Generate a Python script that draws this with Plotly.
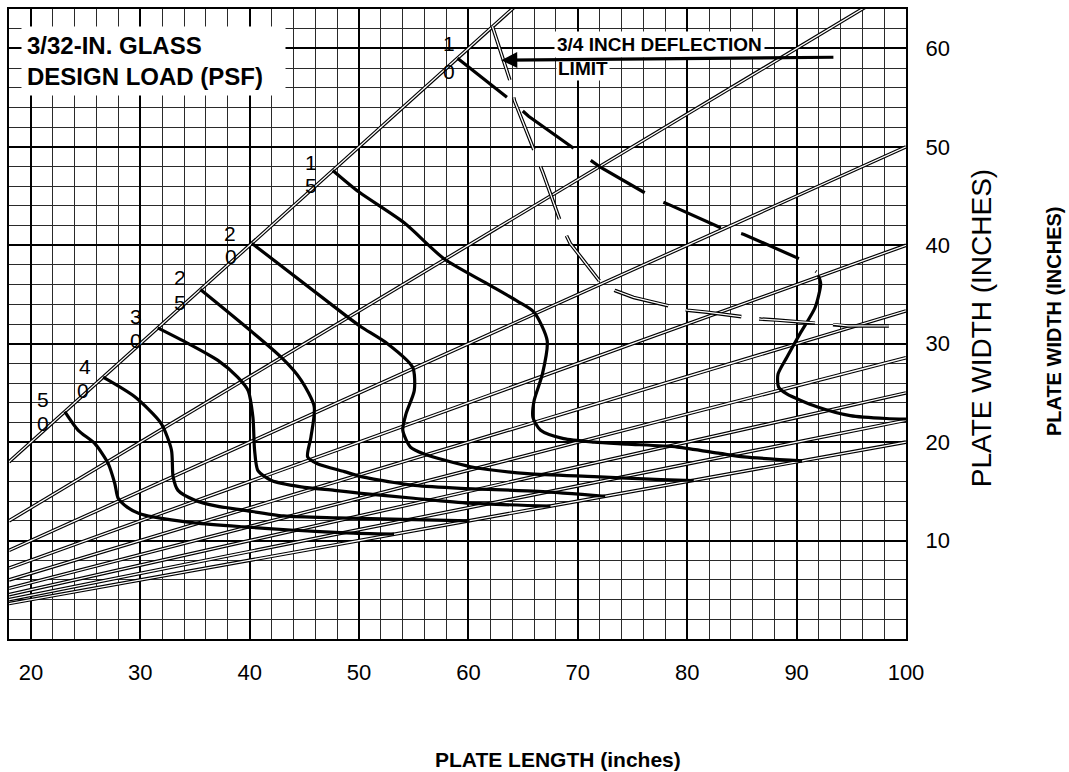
import plotly.graph_objects as go

# ---------------- data ----------------
x_ticks = [20, 30, 40, 50, 60, 70, 80, 90, 100]
y_ticks = [10, 20, 30, 40, 50, 60]
x_range = [18, 100]
y_range = [0, 64]

# aspect-ratio lines: width = length / ratio
ratios = [1, 1.5, 2, 2.5, 3, 3.5, 4, 4.5, 5]

# design-load contours (psf)
load_50_x = [23.1, 24.33, 25.85, 27.07, 27.67, 27.98, 28.8, 29.9, 31.18, 34.95, 39.36, 44.08, 48.8, 53.2]
load_50_y = [23.1, 21.2, 19.85, 17.82, 15.8, 14.3, 13.4, 12.75, 12.4, 11.8, 11.4, 11.05, 10.78, 10.65]

load_40_x = [26.6, 29.5, 31.9, 32.85, 33.0, 33.45, 35.0, 37.0, 39.4, 43.1, 48.0, 54.0, 60.1]
load_40_y = [26.6, 24.6, 21.9, 19.2, 16.5, 15.1, 14.1, 13.5, 13.1, 12.5, 12.3, 12.15, 12.0]

load_30_x = [31.6, 34.4, 37.1, 38.9, 39.85, 40.3, 40.45, 40.76, 42.0, 44.7, 47.75, 50.2, 55.0, 60.1, 67.5]
load_30_y = [31.6, 30.0, 28.3, 26.6, 25.25, 22.5, 19.2, 17.1, 16.1, 15.45, 15.1, 14.8, 14.3, 13.8, 13.5]

load_25_x = [35.5, 42.9, 44.7, 45.9, 45.6, 45.3, 46.2, 48.66, 50.2, 53.2, 55.1, 59.3, 66.4, 72.5]
load_25_y = [35.5, 28.6, 26.3, 23.6, 20.5, 18.5, 17.8, 17.0, 16.5, 15.9, 15.6, 15.3, 15.0, 14.5]

load_20_x = [40.2, 48.97, 50.2, 52.6, 54.9, 55.05, 54.3, 54.0, 54.7, 55.95, 60.2, 65.4, 71.5, 77.6, 80.6]
load_20_y = [40.2, 32.7, 31.7, 30.0, 27.6, 25.25, 22.9, 21.2, 19.5, 18.8, 17.5, 16.8, 16.5, 16.2, 16.1]

load_15_x = [47.6, 50.0, 54.1, 57.8, 61.7, 64.5, 66.0, 67.2, 66.76, 66.0, 65.9, 66.6, 68.7, 71.5, 74.5, 79.1, 83.0, 85.2, 90.5]
load_15_y = [47.6, 45.4, 42.3, 38.6, 36.1, 34.3, 33.2, 30.3, 26.9, 24.2, 22.5, 21.2, 20.35, 20.0, 19.8, 19.5, 18.85, 18.5, 18.1]

load_10_dash_x = [59.0, 63.9, 65.5, 70.5, 72.1, 77.1, 78.6, 83.0, 85.2, 90.3, 91.8]
load_10_dash_y = [59.0, 54.7, 53.1, 49.1, 47.9, 44.7, 44.0, 41.8, 41.1, 38.6, 37.3]
load_10_x = [92.0, 92.2, 91.7, 90.3, 89.1, 88.3, 88.35, 89.1, 91.85, 94.9, 98.2, 100.0]
load_10_y = [36.9, 36.1, 33.7, 31.0, 28.6, 26.9, 25.6, 24.9, 23.6, 22.7, 22.4, 22.35]

# 3/4 inch deflection limit
limit_x = [62.2, 63.9, 64.2, 66.15, 66.8, 68.6, 69.3, 72.1, 73.4, 75.1, 80.0, 81.8, 86.7, 88.2, 93.2, 94.7, 100.0]
limit_y = [62.2, 56.4, 54.7, 49.1, 47.4, 41.8, 40.2, 36.2, 35.4, 34.7, 33.4, 33.2, 32.5, 32.4, 32.0, 31.8, 31.8]

load_labels = ["50", "40", "30", "25", "20", "15", "10"]

# ---------------- figure ----------------
FONT = "Liberation Sans, Arial, Helvetica, sans-serif"
fig = go.Figure()

def add(x, y, color, width, dash=None, shape="linear"):
    fig.add_trace(go.Scatter(x=x, y=y, mode="lines",
                             line=dict(color=color, width=width, dash=dash,
                                       shape=shape, smoothing=0.7),
                             hoverinfo="skip", showlegend=False))

# ratio lines drawn as "double" lines
for r in ratios:
    xs = list(x_range)
    ys = [v / r for v in xs]
    add(xs, ys, "black", 3.6)
    add(xs, ys, "white", 1.3)

# design load curves
for cx, cy in [(load_50_x, load_50_y), (load_40_x, load_40_y), (load_30_x, load_30_y),
               (load_25_x, load_25_y), (load_20_x, load_20_y), (load_15_x, load_15_y),
               (load_10_x, load_10_y)]:
    add(cx, cy, "black", 3.2, shape="spline")
add(load_10_dash_x, load_10_dash_y, "black", 3.2, dash="63px,21px")

# deflection limit (double dashed line)
add(limit_x, limit_y, "black", 3.6, dash="56px,18px")
add(limit_x, limit_y, "white", 1.3, dash="56px,18px")

# digit labels on the 1:1 line (two stacked digits)
label_pos = {
    "50": [(21.14, 24.3), (21.14, 21.85)],
    "40": [(24.93, 27.65), (24.79, 25.2)],
    "30": [(29.65, 32.75), (29.65, 30.3)],
    "25": [(33.6, 36.75), (33.6, 34.2)],
    "20": [(38.16, 41.2), (38.3, 38.85)],
    "15": [(45.6, 48.45), (45.6, 46.1)],
    "10": [(58.24, 60.45), (58.24, 57.7)],
}
annotations = []
for lab in load_labels:
    for ch, (lx, ly) in zip(lab, label_pos[lab]):
        annotations.append(dict(x=lx, y=ly, xref="x", yref="y", text=ch, showarrow=False,
                                font=dict(family=FONT, size=21, color="black"),
                                xanchor="center", yanchor="middle"))

# title box
annotations.append(dict(x=0.0134, y=0.973, xref="paper", yref="paper",
                        text="<b>3/32-IN. GLASS<br>DESIGN LOAD (PSF)</b>", showarrow=False,
                        align="left", xanchor="left", yanchor="top",
                        bgcolor="white", borderpad=5, width=253,
                        font=dict(family=FONT, size=24, color="black")))

# deflection label
annotations.append(dict(x=0.6073, y=0.943, xref="paper", yref="paper",
                        text="<b>3/4 INCH DEFLECTION</b>", showarrow=False,
                        xanchor="left", yanchor="middle", bgcolor="white", borderpad=2,
                        font=dict(family=FONT, size=19, color="black")))
annotations.append(dict(x=0.6095, y=0.905, xref="paper", yref="paper",
                        text="<b>LIMIT</b>", showarrow=False,
                        xanchor="left", yanchor="middle", bgcolor="white", borderpad=1,
                        font=dict(family=FONT, size=19, color="black")))
annotations.append(dict(x=63.0, y=58.8, xref="x", yref="y", ax=93.5, ay=59.1,
                        axref="x", ayref="y", text="", showarrow=True,
                        arrowhead=2, arrowsize=1, arrowwidth=3.2, arrowcolor="black",
                        standoff=0, startstandoff=0))

# axis titles
annotations.append(dict(x=0.6118, y=-0.192, xref="paper", yref="paper",
                        text="<b>PLATE LENGTH (inches)</b>", showarrow=False,
                        xanchor="center", yanchor="middle",
                        font=dict(family=FONT, size=21, color="black")))
annotations.append(dict(x=1.0845, y=0.493, xref="paper", yref="paper",
                        text="PLATE WIDTH (INCHES)", showarrow=False, textangle=-90,
                        xanchor="center", yanchor="middle",
                        font=dict(family=FONT, size=28, color="black")))
annotations.append(dict(x=1.1657, y=0.504, xref="paper", yref="paper",
                        text="<b>PLATE WIDTH (INCHES)</b>", showarrow=False, textangle=-90,
                        xanchor="center", yanchor="middle",
                        font=dict(family=FONT, size=20, color="black")))

axis_common = dict(showline=True, linecolor="black", linewidth=2, mirror=True,
                   showgrid=True, gridcolor="black", gridwidth=1.8, zeroline=False,
                   ticks="", tickfont=dict(family=FONT, size=22, color="black"),
                   ticklabelstandoff=13)

fig.update_layout(
    width=1069, height=772,
    margin=dict(l=7, r=163, t=8, b=133),
    paper_bgcolor="white", plot_bgcolor="white",
    showlegend=False,
    annotations=annotations,
    xaxis=dict(range=x_range, tickmode="array", tickvals=x_ticks,
               ticktext=[str(v) for v in x_ticks],
               minor=dict(dtick=2, tick0=0, showgrid=True, gridcolor="#2a2a2a", gridwidth=1),
               **axis_common),
    yaxis=dict(range=y_range, side="right", tickmode="array", tickvals=y_ticks,
               ticktext=[str(v) for v in y_ticks],
               minor=dict(dtick=2, tick0=0, showgrid=True, gridcolor="#2a2a2a", gridwidth=1),
               **axis_common),
)

fig.write_html(
    "out.html",
    config={"displayModeBar": False},
    post_script="document.body.style.margin='0';document.body.style.padding='0';"
                "document.body.style.overflow='hidden';",
)
